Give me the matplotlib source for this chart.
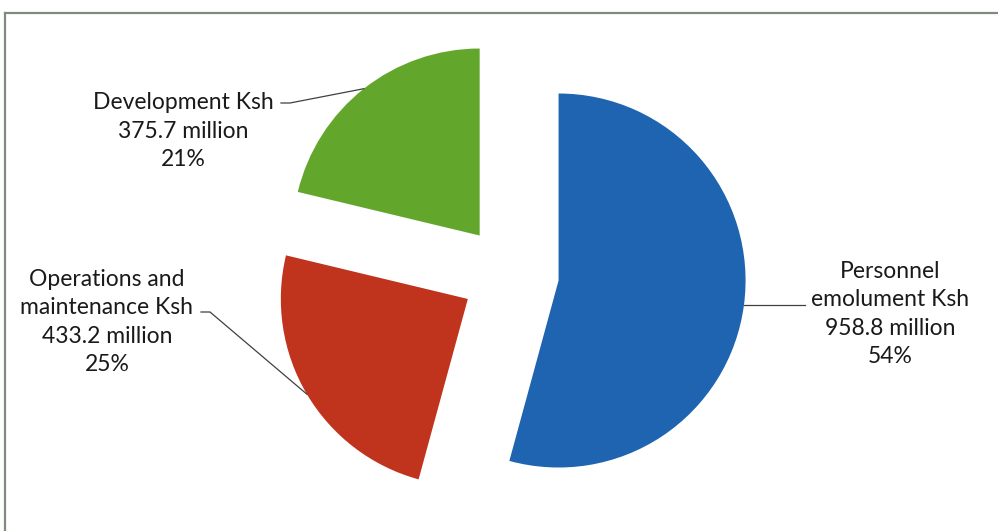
import numpy as np
import matplotlib
matplotlib.use("Agg")
import matplotlib.pyplot as plt
from matplotlib.lines import Line2D

categories = ["Personnel\nemolument Ksh", "Operations and\nmaintenance Ksh", "Development Ksh"]
values = [958.8, 433.2, 375.7]
percents = [54, 25, 21]
colors = ["#1E64B0", "#C0331C", "#62A62B"]

W, H = 998, 531
fig = plt.figure(figsize=(W / 100, H / 100), dpi=100)
ax = fig.add_axes([0, 0, 1, 1])

center = (510, H - 274)
radius = 187
explode_dist = 49
wedges, _ = ax.pie(values, colors=colors, startangle=90, counterclock=False,
                   center=center, radius=radius,
                   explode=[explode_dist] * len(values),
                   wedgeprops=dict(linewidth=0))
ax.set_xlim(0, W)
ax.set_ylim(0, H)
ax.set_aspect("equal")
ax.axis("off")

font = dict(family=["Lato", "DejaVu Sans"], fontsize=16.5, color="#1a1a1a")

# label positions (pixels, top-origin) and leader-line elbow
label_specs = [
    (890, 314, None),
    (107, 322, (210, 312)),
    (183, 131, (290, 103)),
]

for i, w in enumerate(wedges):
    text = f"{categories[i]}\n{values[i]:.1f} million\n{percents[i]}%"
    tx, ty, elbow = label_specs[i]
    ax.text(tx, H - ty, text, ha="center", va="center", linespacing=1.42, **font)
    mid = np.deg2rad((w.theta1 + w.theta2) / 2)
    cx, cy = w.center
    px = cx + w.r * np.cos(mid)
    py = cy + w.r * np.sin(mid)
    if elbow is None:
        ax.plot([px, 805], [py, py], color="#404040", lw=0.9)
    else:
        ex, ey = elbow
        ax.plot([ex - 9, ex, px], [H - ey, H - ey, py], color="#404040", lw=0.9)

# outer frame (partially cropped)
bc = "#7E8C7E"
fig.add_artist(Line2D([5 / W, 1], [1 - 13 / H, 1 - 13 / H], transform=fig.transFigure, color=bc, lw=1.6))
fig.add_artist(Line2D([5 / W, 5 / W], [0, 1 - 13 / H], transform=fig.transFigure, color=bc, lw=1.6))

fig.savefig("out.png", dpi=100)
